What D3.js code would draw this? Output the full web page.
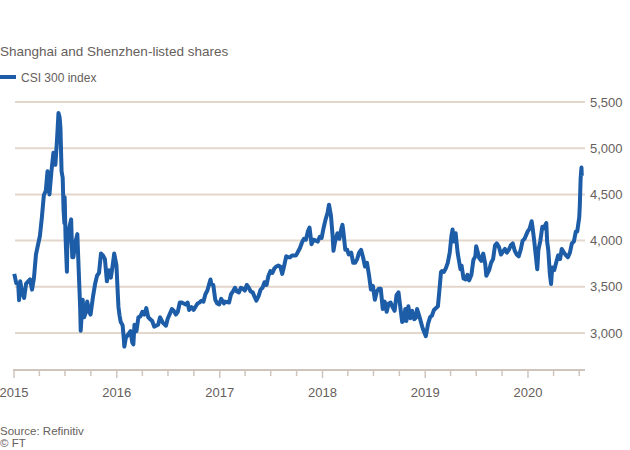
<!DOCTYPE html>
<html>
<head>
<meta charset="utf-8">
<script src="https://cdn.jsdelivr.net/npm/d3@7"></script>
<style>
  body { margin: 0; background: #fff; }
  text { font-family: "Liberation Sans", Arial, sans-serif; fill: #66605c; }
</style>
</head>
<body>
<svg id="chart" width="630" height="450"></svg>
<script>
// CSI 300 index, weekly-ish closes
var dates = [
  "2015-01-02","2015-01-09","2015-01-16","2015-01-19","2015-01-23","2015-01-30","2015-02-06","2015-02-13","2015-02-27",
  "2015-03-06","2015-03-13","2015-03-20","2015-03-27","2015-04-03","2015-04-10","2015-04-17","2015-04-24","2015-04-30",
  "2015-05-07","2015-05-14","2015-05-21","2015-05-28","2015-06-03","2015-06-08","2015-06-12","2015-06-15","2015-06-19",
  "2015-06-23","2015-06-26","2015-06-29","2015-06-30","2015-07-03","2015-07-08","2015-07-09","2015-07-14","2015-07-17",
  "2015-07-23","2015-07-27","2015-07-31","2015-08-07","2015-08-14","2015-08-18","2015-08-24","2015-08-26","2015-09-02",
  "2015-09-07","2015-09-15","2015-09-18","2015-09-25","2015-09-30","2015-10-09","2015-10-16","2015-10-23","2015-10-30",
  "2015-11-06","2015-11-13","2015-11-20","2015-11-27","2015-12-04","2015-12-11","2015-12-18","2015-12-23","2015-12-31",
  "2016-01-04","2016-01-07","2016-01-11","2016-01-15","2016-01-19","2016-01-22","2016-01-26","2016-01-28","2016-02-03",
  "2016-02-05","2016-02-19","2016-02-25","2016-02-29","2016-03-04","2016-03-11","2016-03-18","2016-03-25","2016-04-01",
  "2016-04-08","2016-04-15","2016-04-22","2016-04-29","2016-05-06","2016-05-13","2016-05-20","2016-05-27","2016-06-03",
  "2016-06-13","2016-06-24","2016-06-30","2016-07-08","2016-07-15","2016-07-22","2016-07-29","2016-08-05","2016-08-12",
  "2016-08-19","2016-08-26","2016-09-02","2016-09-09","2016-09-14","2016-09-23","2016-09-30","2016-10-14","2016-10-21",
  "2016-10-28","2016-11-04","2016-11-11","2016-11-18","2016-11-29","2016-12-02","2016-12-09","2016-12-16","2016-12-23",
  "2016-12-30","2017-01-06","2017-01-16","2017-01-20","2017-02-03","2017-02-10","2017-02-17","2017-02-24","2017-03-03",
  "2017-03-10","2017-03-17","2017-03-24","2017-03-31","2017-04-07","2017-04-14","2017-04-21","2017-04-28","2017-05-05",
  "2017-05-11","2017-05-19","2017-05-26","2017-06-02","2017-06-09","2017-06-16","2017-06-23","2017-06-30","2017-07-07",
  "2017-07-14","2017-07-21","2017-07-28","2017-08-04","2017-08-11","2017-08-18","2017-08-25","2017-09-01","2017-09-08",
  "2017-09-15","2017-09-22","2017-09-29","2017-10-13","2017-10-20","2017-10-27","2017-11-03","2017-11-10","2017-11-16",
  "2017-11-23","2017-11-30","2017-12-08","2017-12-15","2017-12-22","2017-12-29","2018-01-05","2018-01-12","2018-01-19",
  "2018-01-24","2018-01-31","2018-02-06","2018-02-09","2018-02-14","2018-02-23","2018-03-02","2018-03-09","2018-03-13",
  "2018-03-16","2018-03-23","2018-03-30","2018-04-04","2018-04-13","2018-04-20","2018-04-27","2018-05-04","2018-05-11",
  "2018-05-18","2018-05-25","2018-06-01","2018-06-08","2018-06-15","2018-06-22","2018-06-29","2018-07-06","2018-07-13",
  "2018-07-20","2018-07-27","2018-08-03","2018-08-10","2018-08-17","2018-08-24","2018-08-31","2018-09-07","2018-09-14",
  "2018-09-21","2018-09-28","2018-10-11","2018-10-18","2018-10-22","2018-10-26","2018-11-02","2018-11-09","2018-11-16",
  "2018-11-23","2018-11-30","2018-12-03","2018-12-07","2018-12-14","2018-12-21","2018-12-28","2019-01-03","2019-01-11",
  "2019-01-18","2019-01-25","2019-02-01","2019-02-15","2019-02-22","2019-02-26","2019-03-01","2019-03-08","2019-03-15",
  "2019-03-22","2019-03-29","2019-04-04","2019-04-08","2019-04-12","2019-04-19","2019-04-26","2019-05-06","2019-05-10",
  "2019-05-17","2019-05-24","2019-05-31","2019-06-06","2019-06-14","2019-06-21","2019-06-28","2019-07-01","2019-07-12",
  "2019-07-19","2019-07-26","2019-08-02","2019-08-06","2019-08-16","2019-08-23","2019-08-30","2019-09-06","2019-09-12",
  "2019-09-20","2019-09-27","2019-10-11","2019-10-18","2019-10-25","2019-11-01","2019-11-08","2019-11-15","2019-11-22",
  "2019-11-29","2019-12-06","2019-12-13","2019-12-20","2019-12-31","2020-01-07","2020-01-14","2020-01-17","2020-01-23",
  "2020-02-03","2020-02-07","2020-02-14","2020-02-21","2020-02-25","2020-03-06","2020-03-09","2020-03-13","2020-03-19",
  "2020-03-23","2020-03-27","2020-04-03","2020-04-10","2020-04-17","2020-04-24","2020-04-30","2020-05-08","2020-05-15",
  "2020-05-22","2020-05-29","2020-06-05","2020-06-12","2020-06-19","2020-06-24","2020-07-01","2020-07-03","2020-07-06",
  "2020-07-09","2020-07-10"
];
var values = [
  3641,3540,3530,3356,3560,3435,3380,3535,3580,
  3470,3600,3850,3950,4050,4250,4490,4540,4750,
  4500,4750,4950,4820,5100,5380,5335,5220,4750,
  4680,4340,4190,4470,4050,3663,3900,4120,4150,
  4230,3820,3820,3980,4070,3750,3275,3025,3360,
  3170,3240,3340,3230,3200,3400,3530,3620,3650,
  3860,3840,3800,3560,3680,3600,3740,3860,3731,
  3470,3285,3190,3120,3100,3080,2940,2853,2960,
  2960,3020,2900,2877,3090,3020,3170,3180,3230,
  3200,3270,3170,3150,3130,3070,3080,3090,3170,
  3110,3080,3155,3210,3260,3240,3200,3230,3330,
  3330,3320,3310,3330,3250,3280,3250,3320,3330,
  3350,3340,3420,3460,3580,3530,3520,3360,3320,
  3310,3370,3320,3340,3330,3420,3450,3490,3450,
  3440,3490,3480,3460,3520,3490,3450,3440,3390,
  3350,3400,3470,3490,3550,3520,3620,3670,3650,
  3700,3720,3730,3720,3640,3730,3830,3820,3820,
  3840,3840,3840,3920,3980,4020,4010,4100,4140,
  3960,4010,4000,3990,4040,4030,4140,4230,4300,
  4389,4270,4050,3890,3980,4080,4020,4130,4170,
  4100,3900,3900,3850,3870,3760,3760,3800,3870,
  3900,3820,3720,3760,3630,3470,3510,3360,3450,
  3480,3480,3260,3340,3230,3320,3330,3280,3240,
  3410,3440,3120,3140,3260,3130,3290,3160,3240,
  3150,3170,3260,3220,3150,3070,3010,2965,3100,
  3170,3190,3250,3290,3520,3660,3670,3660,3700,
  3760,3870,4050,4120,3990,4080,3870,3690,3730,
  3590,3580,3630,3570,3630,3790,3830,3940,3810,
  3780,3860,3750,3620,3680,3760,3800,3950,3970,
  3930,3850,3910,3870,3900,3950,3970,3890,3850,
  3830,3900,4000,4020,4100,4130,4210,4150,4000,
  3690,3900,4000,4150,4130,4190,3990,3900,3630,
  3530,3710,3680,3760,3840,3800,3910,3870,3840,
  3820,3870,3970,3990,4100,4100,4250,4370,4670,
  4790,4700
];
var yTicks = [3000, 3500, 4000, 4500, 5000, 5500];
var xYears = [2015, 2016, 2017, 2018, 2019, 2020];

var parse = d3.timeParse("%Y-%m-%d");
var data = dates.map(function(d, i) { return {date: parse(d), value: values[i]}; });

var svg = d3.select("#chart");

//scales
var x = d3.scaleTime()
  .domain([new Date(2015, 0, 1), new Date(2020, 6, 18)])
  .range([14, 584]);
var y = d3.scaleLinear()
  .domain([2600, 5500])
  .range([370, 102]);

//title + legend
svg.append("text")
  .attr("x", 0).attr("y", 56)
  .style("font-size", "13.5px")
  .text("Shanghai and Shenzhen-listed shares");
svg.append("rect")
  .attr("x", 0).attr("y", 75)
  .attr("width", 16).attr("height", 4)
  .attr("fill", "#1d5ca6");
svg.append("text")
  .attr("x", 21).attr("y", 82)
  .style("font-size", "12px")
  .text("CSI 300 index");

//gridlines and right hand labels
var grid = svg.append("g");
grid.selectAll("line")
  .data(yTicks)
  .enter().append("line")
  .attr("x1", 15).attr("x2", 585)
  .attr("y1", function(d) { return y(d); })
  .attr("y2", function(d) { return y(d); })
  .attr("stroke", "#e3d6cb")
  .attr("stroke-width", 2);
grid.selectAll("text")
  .data(yTicks)
  .enter().append("text")
  .attr("x", 590)
  .attr("y", function(d) { return y(d); })
  .attr("dy", "0.35em")
  .style("font-size", "13px")
  .text(function(d) { return d3.format(",")(d); });

//x axis, quarterly ticks with years labelled
var quarters = d3.timeMonth.every(3).range(new Date(2015, 0, 1), new Date(2020, 6, 2));
var xAxis = svg.append("g");
xAxis.append("line")
  .attr("x1", 13).attr("x2", 585)
  .attr("y1", 370).attr("y2", 370)
  .attr("stroke", "#cfc5bc")
  .attr("stroke-width", 2);
xAxis.selectAll(".tick")
  .data(quarters)
  .enter().append("line")
  .attr("class", "tick")
  .attr("x1", function(d) { return x(d); })
  .attr("x2", function(d) { return x(d); })
  .attr("y1", 370)
  .attr("y2", function(d) { return d.getMonth() === 0 ? 378 : 376; })
  .attr("stroke", "#cfc5bc")
  .attr("stroke-width", 1.5);
xAxis.selectAll(".yr")
  .data(xYears)
  .enter().append("text")
  .attr("class", "yr")
  .attr("x", function(d) { return x(new Date(d, 0, 1)); })
  .attr("y", 397)
  .attr("text-anchor", "middle")
  .style("font-size", "13px")
  .text(function(d) { return d; });

//the line
var line = d3.line()
  .x(function(d) { return x(d.date); })
  .y(function(d) { return y(d.value); });
svg.append("path")
  .datum(data)
  .attr("d", line)
  .attr("fill", "none")
  .attr("stroke", "#1d5ca6")
  .attr("stroke-width", 4)
  .attr("stroke-linejoin", "round");

//source
svg.append("text")
  .attr("x", 0).attr("y", 435)
  .style("font-size", "11.5px")
  .text("Source: Refinitiv");
svg.append("text")
  .attr("x", 0).attr("y", 447)
  .style("font-size", "11.5px")
  .text("© FT");
</script>
</body>
</html>
